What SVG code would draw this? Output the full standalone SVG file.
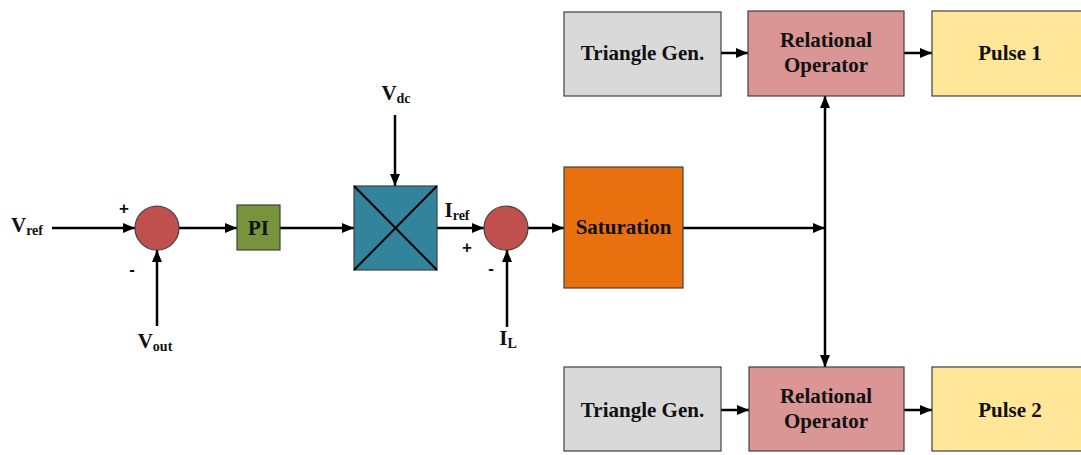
<svg xmlns="http://www.w3.org/2000/svg" width="1081" height="455" viewBox="0 0 1081 455">
<style>
.t{font-family:"Liberation Serif","Times New Roman",serif;font-weight:bold;font-size:21px;fill:#111;text-anchor:middle}
.s{font-size:14px}
.sg{font-family:"Liberation Sans",Arial,sans-serif;font-weight:bold;font-size:17px;fill:#111;text-anchor:middle}
.b{stroke:#404040;stroke-width:1.2}
.w{stroke:#000;stroke-width:2.5;fill:none}
</style>
<defs>
<marker id="a" markerWidth="12" markerHeight="10" refX="12" refY="5" orient="auto" markerUnits="userSpaceOnUse">
<path d="M0,0 L12,5 L0,10 Z" fill="#000"/>
</marker>
</defs>
<g id="connectors">
<line class="w" x1="52" y1="228" x2="135" y2="228" marker-end="url(#a)"/>
<line class="w" x1="157" y1="326" x2="157" y2="250" marker-end="url(#a)"/>
<line class="w" x1="179" y1="228" x2="237" y2="228" marker-end="url(#a)"/>
<line class="w" x1="280" y1="228" x2="354" y2="228" marker-end="url(#a)"/>
<line class="w" x1="395" y1="115" x2="395" y2="186" marker-end="url(#a)"/>
<line class="w" x1="437" y1="228" x2="484" y2="228" marker-end="url(#a)"/>
<line class="w" x1="507" y1="327" x2="507" y2="250" marker-end="url(#a)"/>
<line class="w" x1="528" y1="228" x2="564" y2="228" marker-end="url(#a)"/>
<line class="w" x1="683" y1="228" x2="825" y2="228" marker-end="url(#a)"/>
<line class="w" x1="825" y1="228" x2="825" y2="96" marker-end="url(#a)"/>
<line class="w" x1="825" y1="228" x2="825" y2="367" marker-end="url(#a)"/>
<line class="w" x1="721" y1="53" x2="748" y2="53" marker-end="url(#a)"/>
<line class="w" x1="904" y1="53" x2="932" y2="53" marker-end="url(#a)"/>
<line class="w" x1="721" y1="410" x2="749" y2="410" marker-end="url(#a)"/>
<line class="w" x1="904" y1="410" x2="932" y2="410" marker-end="url(#a)"/>
</g>
<g id="vref"><text class="t" x="27" y="232">V<tspan class="s" dy="3">ref</tspan></text></g>
<g id="sum1">
<circle class="b" cx="157" cy="228" r="22" fill="#C0504D"/>
<text class="sg" x="124" y="214">+</text>
<text class="sg" x="132" y="275">-</text>
</g>
<g id="vout"><text class="t" x="155" y="348">V<tspan class="s" dy="3">out</tspan></text></g>
<g id="pi">
<rect class="b" x="237" y="205" width="43" height="45" fill="#77933C"/>
<text class="t" x="258.5" y="235">PI</text>
</g>
<g id="vdc"><text class="t" x="396" y="100">V<tspan class="s" dy="3">dc</tspan></text></g>
<g id="mult">
<rect class="b" x="354" y="186" width="83" height="84" fill="#31849B"/>
<path d="M354,186 L437,270 M437,186 L354,270" stroke="#000" stroke-width="2"/>
</g>
<g id="iref"><text class="t" x="457" y="217">I<tspan class="s" dy="3">ref</tspan></text></g>
<g id="sum2">
<circle class="b" cx="506" cy="228" r="22" fill="#C0504D"/>
<text class="sg" x="467" y="253">+</text>
<text class="sg" x="491" y="274">-</text>
</g>
<g id="il"><text class="t" x="508" y="345">I<tspan class="s" dy="3">L</tspan></text></g>
<g id="saturation">
<rect class="b" x="564" y="167" width="119" height="121" fill="#E8700F"/>
<text class="t" x="623.5" y="234">Saturation</text>
</g>
<g id="tri1">
<rect class="b" x="564" y="12" width="157" height="84" fill="#D9D9D9"/>
<text class="t" x="642.5" y="60">Triangle Gen.</text>
</g>
<g id="rel1">
<rect class="b" x="748" y="11" width="156" height="85" fill="#D99694"/>
<text class="t" x="826" y="47">Relational</text>
<text class="t" x="826" y="72">Operator</text>
</g>
<g id="pulse1">
<rect class="b" x="932" y="11" width="152" height="85" fill="#FFE699"/>
<text class="t" x="1010" y="60">Pulse 1</text>
</g>
<g id="tri2">
<rect class="b" x="564" y="367" width="157" height="84" fill="#D9D9D9"/>
<text class="t" x="642.5" y="417">Triangle Gen.</text>
</g>
<g id="rel2">
<rect class="b" x="749" y="367" width="155" height="84" fill="#D99694"/>
<text class="t" x="826" y="403">Relational</text>
<text class="t" x="826" y="428">Operator</text>
</g>
<g id="pulse2">
<rect class="b" x="932" y="367" width="152" height="84" fill="#FFE699"/>
<text class="t" x="1010" y="417">Pulse 2</text>
</g>
</svg>
